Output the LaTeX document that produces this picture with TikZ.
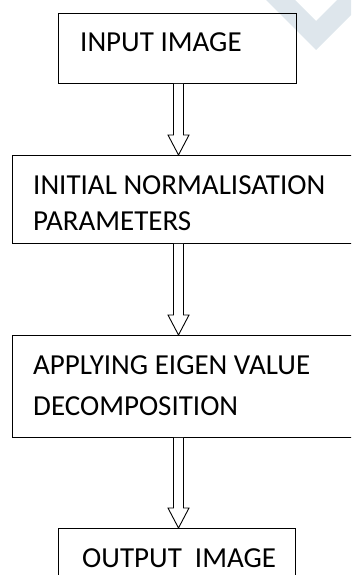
\documentclass[tikz,border=0pt]{standalone}
\usepackage{fontspec}
\setmainfont{Carlito}
\usetikzlibrary{calc, positioning}
\definecolor{markgrey}{RGB}{222,230,236}
\tikzstyle{block} = [draw, line width=0.9pt, rectangle, anchor=north west,
    inner sep=0pt]
\tikzstyle{blocktext} = [anchor=base west, inner sep=0pt, align=left,
    font=\fontsize{29}{36}\selectfont]
% hollow arrow from one block down to the next
\newcommand{\flow}[2]{%
  \draw [line width=0.9pt, fill=white]
    let \p1=(#1.south -| axis), \p2=(#2.north -| axis) in
    (\x1-5,\y1) -- (\x1-5,\y2+20) -- (\x1-10.5,\y2+20) -- (\x2,\y2)
    -- (\x1+10.5,\y2+20) -- (\x1+5,\y2+20) -- (\x1+5,\y1);}

\begin{document}
\begin{tikzpicture}[x=1pt, y=-1pt]
    \useasboundingbox (0,0) rectangle (351,575);
    \clip (0,0) rectangle (351,575);
    % pale chevron in the corner
    \fill [markgrey] (266,0) -- (295,0) -- (316,21) -- (337,0) -- (351,0)
        -- (351,15) -- (316,50) -- cycle;
    \coordinate (axis) at (178.5,0);

    % base of a two-line text is its last line
    \node [block, minimum width=238pt, minimum height=70pt] (input) at (58,13) {};
    \node [blocktext] (inputtext) at (80,52) {INPUT IMAGE};

    \node [block, minimum width=348pt, minimum height=88pt] (norm) at (12,155) {};
    \node [blocktext] (normtext) at (33,230) {INITIAL NORMALISATION\\PARAMETERS};

    \node [block, minimum width=348pt, minimum height=102pt] (eigen) at (12,335) {};
    \node [blocktext, font=\fontsize{29}{41}\selectfont] (eigentext) at (33,415)
        {APPLYING EIGEN VALUE\\DECOMPOSITION};

    \node [block, minimum width=237pt, minimum height=62pt] (output) at (58,528) {};
    \node [blocktext] (outputtext) at (82,567) {OUTPUT\ \ IMAGE};

    \flow{input}{norm}
    \flow{norm}{eigen}
    \flow{eigen}{output}
\end{tikzpicture}
\end{document}
